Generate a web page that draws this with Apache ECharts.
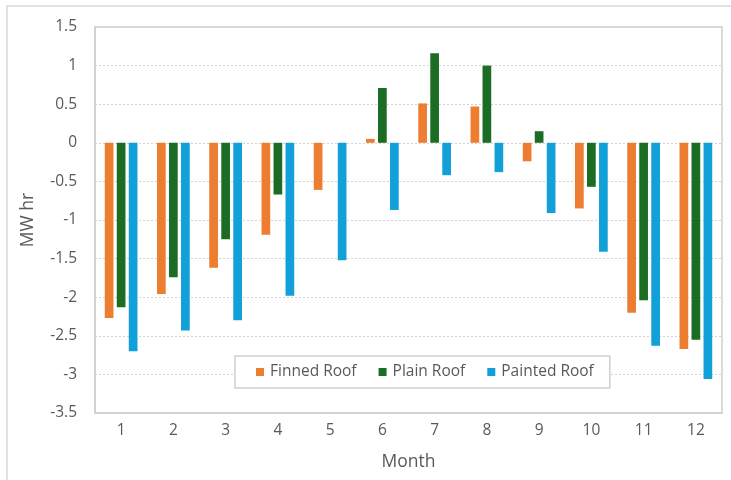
<!DOCTYPE html>
<html>
<head>
<meta charset="utf-8">
<title>Monthly energy difference by roof type</title>
<script src="https://cdn.jsdelivr.net/npm/echarts@6/dist/echarts.min.js"></script>
<style>
  html, body { margin: 0; padding: 0; background: #ffffff; }
  #chart { width: 731px; height: 480px; }
</style>
</head>
<body>
<div id="chart"></div>
<script>
// Months on the category axis
const months = ['1', '2', '3', '4', '5', '6', '7', '8', '9', '10', '11', '12'];

// Monthly energy difference (MW hr) for each roof type
const finnedRoof  = [-2.27, -1.96, -1.62, -1.19, -0.61, 0.05, 0.51, 0.47, -0.24, -0.85, -2.20, -2.67];
const plainRoof   = [-2.13, -1.74, -1.25, -0.67, 0.00, 0.71, 1.16, 1.00, 0.15, -0.57, -2.04, -2.55];
const paintedRoof = [-2.70, -2.43, -2.30, -1.98, -1.52, -0.87, -0.42, -0.38, -0.91, -1.41, -2.63, -3.06];

// Value axis range
const yMin = -3.5;
const yMax = 1.5;
const yStep = 0.5;

const textColor = '#595959';
const font = 'Open Sans';

const chart = echarts.init(document.getElementById('chart'), null, { renderer: 'canvas' });

const barStyle = (name, data, color) => ({
  name: name,
  type: 'bar',
  data: data,
  barWidth: 8.7,
  barGap: '38%',
  itemStyle: { color: color },
  emphasis: { disabled: true }
});

chart.setOption({
  animation: false,
  backgroundColor: '#ffffff',
  textStyle: { fontFamily: font, color: textColor },
  graphic: [{
    type: 'rect',
    silent: true,
    shape: { x: 7, y: 6, width: 800, height: 600 },
    style: { fill: 'none', stroke: '#d9d9d9', lineWidth: 1.5 },
    z: -10
  }],
  grid: {
    left: 95,
    right: 9,
    top: 27,
    bottom: 67,
    show: true,
    borderColor: '#d0d0d0',
    borderWidth: 1.5,
    containLabel: false
  },
  legend: {
    data: ['Finned Roof', 'Plain Roof', 'Painted Roof'],
    left: 235,
    top: 356,
    icon: 'rect',
    itemWidth: 8,
    itemHeight: 8,
    itemGap: 22,
    padding: [8, 16, 8, 21],
    backgroundColor: '#ffffff',
    borderColor: '#d0d0d0',
    borderWidth: 1.5,
    textStyle: { fontFamily: font, fontSize: 15.5, color: textColor, padding: [0, 0, 0, 1] }
  },
  xAxis: {
    type: 'category',
    data: months,
    name: 'Month',
    nameLocation: 'middle',
    nameGap: 40,
    nameTextStyle: { fontFamily: font, fontSize: 17.5, color: textColor },
    axisLine: { onZero: false, lineStyle: { color: '#d0d0d0', width: 1.5 } },
    axisTick: { show: false },
    axisLabel: { fontFamily: font, fontSize: 15.5, color: textColor, margin: 10 },
    splitLine: { show: false }
  },
  yAxis: {
    type: 'value',
    min: yMin,
    max: yMax,
    interval: yStep,
    name: 'MW hr',
    nameLocation: 'middle',
    nameGap: 58,
    nameTextStyle: { fontFamily: font, fontSize: 17.5, color: textColor },
    axisLine: { show: true, lineStyle: { color: '#d0d0d0', width: 1.5 } },
    axisTick: { show: false },
    axisLabel: { fontFamily: font, fontSize: 15.5, color: textColor, margin: 18 },
    splitLine: { show: true, lineStyle: { color: '#d3d3d3', type: [2, 2], width: 1 } }
  },
  series: [
    barStyle('Finned Roof', finnedRoof, '#ED7D31'),
    barStyle('Plain Roof', plainRoof, '#1B6D24'),
    barStyle('Painted Roof', paintedRoof, '#11A0D8')
  ]
});
</script>
</body>
</html>
